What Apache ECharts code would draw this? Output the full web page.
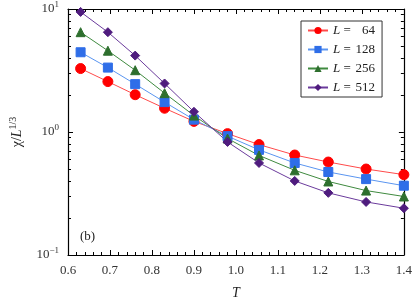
<!DOCTYPE html>
<html><head><meta charset="utf-8">
<script src="https://cdn.jsdelivr.net/npm/echarts@6/dist/echarts.min.js"></script>
<style>html,body{margin:0;padding:0;background:#fff}#c{width:415px;height:305px}</style>
</head><body><div id="c"></div>
<script>
const T = [0.63, 0.695, 0.76, 0.83, 0.90, 0.98, 1.055, 1.14, 1.22, 1.31, 1.40];
const L64  = [3.28, 2.57, 2.01, 1.56, 1.22, 0.97, 0.79, 0.65, 0.57, 0.50, 0.45];
const L128 = [4.45, 3.34, 2.45, 1.75, 1.26, 0.925, 0.716, 0.56, 0.473, 0.414, 0.366];
const L256 = [6.48, 4.58, 3.18, 2.07, 1.36, 0.885, 0.645, 0.488, 0.396, 0.334, 0.299];
const L512 = [9.47, 6.48, 4.18, 2.48, 1.46, 0.83, 0.56, 0.40, 0.32, 0.27, 0.24];
const seriesNames = ['64', '128', '256', '512'];
const xTicks = [0.6, 0.7, 0.8, 0.9, 1.0, 1.1, 1.2, 1.3, 1.4];
const yMinor = [0.2,0.3,0.4,0.5,0.6,0.7,0.8,0.9,2,3,4,5,6,7,8,9];

const FONT = 'Liberation Serif';
const chart = echarts.init(document.getElementById('c'));
const pair = a => a.map((v, i) => [T[i], v]);
const styles = [
  {line:'#ff4a4a', mk:'#ff0000', sym:'circle', size:10},
  {line:'#5a95f0', mk:'#2f6ee8', sym:'rect', size:9},
  {line:'#3f8a3f', mk:'#2e6f2e', sym:'triangle', size:9},
  {line:'#6b3b9c', mk:'#4f1c7e', sym:'diamond', size:9}
];
const datas = [L64, L128, L256, L512];
const tickCommon = {show:true, inside:true, length:5, lineStyle:{color:'#000', width:1}};
const lineCommon = {show:true, onZero:false, lineStyle:{color:'#000', width:1.2}};
const yBase = {type:'log', min:0.1, max:10, logBase:10, splitLine:{show:false}};
const yMinorLog = yMinor.map(v => Math.log10(v));
const minorAxis = pos => ({type:'value', min:-1, max:1, position:pos, splitLine:{show:false},
  axisLine:{show:false}, axisLabel:{show:false},
  axisTick:{show:true, inside:true, length:3, customValues:yMinorLog, lineStyle:{color:'#000', width:1}}});
chart.setOption({
  animation:false,
  grid:{left:54, right:9, top:9, bottom:42},
  legend:{
    left:301, top:21, orient:'vertical', itemGap:6, itemWidth:20, itemHeight:9,
    padding:[3,7,3,6], borderColor:'#333', borderWidth:1, backgroundColor:'#fff',
    data:seriesNames,
    formatter: n => '{i|L} = {n|' + n + '}',
    textStyle:{fontFamily:FONT, fontSize:13, color:'#222',
      rich:{i:{fontStyle:'italic', fontFamily:FONT, fontSize:13}, n:{width:21, align:'right', fontFamily:FONT, fontSize:13}}}
  },
  xAxis:[
    {type:'value', min:0.6, max:1.4, interval:0.1, position:'bottom',
     axisLine:lineCommon, axisTick:tickCommon, minorTick:{show:true, splitNumber:5, length:3, lineStyle:{color:'#000'}},
     splitLine:{show:false}, minorSplitLine:{show:false},
     axisLabel:{fontFamily:FONT, fontSize:13, color:'#333', margin:9, formatter:v => v.toFixed(1)},
     name:'T', nameLocation:'middle', nameGap:31,
     nameTextStyle:{fontFamily:FONT, fontStyle:'italic', fontSize:14, color:'#222'}},
    {type:'value', min:0.6, max:1.4, interval:0.1, position:'top',
     axisLine:lineCommon, axisTick:tickCommon, minorTick:{show:true, splitNumber:5, length:3, lineStyle:{color:'#000'}},
     splitLine:{show:false}, axisLabel:{show:false}}
  ],
  yAxis:[
    Object.assign({}, yBase, {position:'left', axisLine:lineCommon, axisTick:tickCommon,
      axisLabel:{margin:9, formatter:v => {const e = Math.round(Math.log10(v)); return '{b|10}{e|' + (e < 0 ? '\u2212' + (-e) : e) + '}';},
        rich:{b:{fontFamily:FONT, fontSize:13, color:'#333'}, e:{fontFamily:FONT, fontSize:9, color:'#333', padding:[0,0,8,0]}}},
      name:'{t|\u03c7/}{i|L}{s|1/3}', nameLocation:'middle', nameGap:42, nameRotate:90,
      nameTextStyle:{rich:{t:{fontFamily:FONT, fontSize:14, color:'#222'}, i:{fontFamily:FONT, fontStyle:'italic', fontSize:14, color:'#222'}, s:{fontFamily:FONT, fontSize:10, color:'#222', padding:[0,0,8,0]}}}}),
    Object.assign({}, yBase, {position:'right', axisLine:lineCommon, axisTick:tickCommon, axisLabel:{show:false}}),
    minorAxis('left'),
    minorAxis('right')
  ],
  graphic:[
    {type:'text', left:80, top:230, style:{text:'(b)', fontFamily:FONT, fontSize:13, fill:'#222'}}
  ],
  series: datas.map((d, k) => ({
    name: seriesNames[k], type:'line', data: pair(d), xAxisIndex:0, yAxisIndex:0,
    symbol: styles[k].sym, symbolSize: styles[k].size,
    lineStyle:{color:styles[k].line, width:1},
    itemStyle:{color:styles[k].mk, borderColor:styles[k].mk}
  }))
});
</script></body></html>
